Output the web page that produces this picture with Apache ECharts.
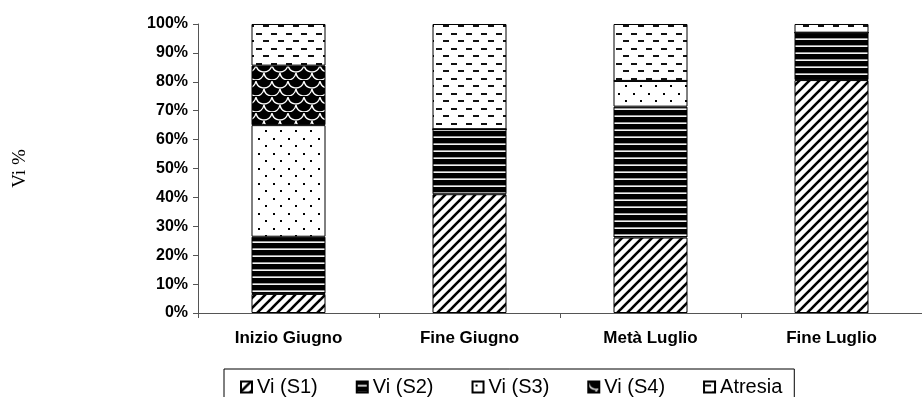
<!DOCTYPE html>
<html>
<head>
<meta charset="utf-8">
<script src="https://cdn.jsdelivr.net/npm/echarts@6/dist/echarts.min.js"></script>
<style>
  html, body { margin: 0; padding: 0; background: #fff; }
  #chart { width: 922px; height: 397px; }
</style>
</head>
<body>
<div id="chart"></div>
<script>
// Stages of the season and the share (%) of each oocyte class per stage
const categories = ['Inizio Giugno', 'Fine Giugno', 'Metà Luglio', 'Fine Luglio'];
const viS1 = [6.6, 41.1, 26.1, 80.6];
const viS2 = [19.8, 22.5, 45.3, 16.4];
const viS3 = [38.6, 0, 8.9, 0];
const viS4 = [20.6, 0, 0, 0];
const atresia = [14.4, 36.4, 19.7, 3.0];
const seriesNames = ['Vi (S1)', 'Vi (S2)', 'Vi (S3)', 'Vi (S4)', 'Atresia'];

// Monochrome fill patterns, drawn once on small tiles
function tile(w, h, draw) {
  const c = document.createElement('canvas');
  c.width = w; c.height = h;
  const ctx = c.getContext('2d');
  draw(ctx, w, h);
  return { image: c, repeat: 'repeat' };
}

const patDiag = tile(10, 10, (ctx, w, h) => {
  ctx.fillStyle = '#fff'; ctx.fillRect(0, 0, w, h);
  ctx.strokeStyle = '#000'; ctx.lineWidth = 2.6;
  [0, 10, 20].forEach(s => {
    ctx.beginPath(); ctx.moveTo(s - 12, 12); ctx.lineTo(s + 2, -2); ctx.stroke();
  });
});

const patHoriz = tile(4, 7, (ctx, w, h) => {
  ctx.fillStyle = '#000'; ctx.fillRect(0, 0, w, h);
  ctx.fillStyle = '#9a9a9a'; ctx.fillRect(0, 3, w, 1);
  ctx.fillStyle = '#f2f2f2'; ctx.fillRect(0, 4, w, 1);
});

const patDots = tile(15, 15, (ctx, w, h) => {
  ctx.fillStyle = '#fff'; ctx.fillRect(0, 0, w, h);
  ctx.fillStyle = '#000';
  ctx.fillRect(3, 3, 2, 2);
  ctx.fillRect(10, 10, 2, 2);
});

const patScale = tile(16, 16, (ctx, w, h) => {
  ctx.fillStyle = '#000'; ctx.fillRect(0, 0, w, h);
  ctx.strokeStyle = '#fff'; ctx.lineWidth = 1.3;
  [[8, 0], [0, 8], [16, 8], [8, 16]].forEach(([cx, cy]) => {
    ctx.beginPath(); ctx.arc(cx, cy, 8, 0.15, Math.PI - 0.15); ctx.stroke();
  });
});

const patDash = tile(15, 15, (ctx, w, h) => {
  ctx.fillStyle = '#fff'; ctx.fillRect(0, 0, w, h);
  ctx.fillStyle = '#111';
  ctx.fillRect(1, 3, 6, 2);
  ctx.fillRect(8, 10, 6, 2);
});

const fills = [patDiag, patHoriz, patDots, patScale, patDash];
const values = [viS1, viS2, viS3, viS4, atresia];

const chart = echarts.init(document.getElementById('chart'), null, { renderer: 'canvas' });

chart.setOption({
  animation: false,
  backgroundColor: '#fff',
  grid: { left: 198, right: -12, top: 24, bottom: 84, containLabel: false },
  legend: {
    data: seriesNames,
    left: 224,
    top: 369,
    padding: [8, 12, 10, 16],
    itemGap: 38,
    itemWidth: 11,
    itemHeight: 11,
    icon: 'rect',
    borderColor: '#000',
    borderWidth: 1,
    textStyle: { fontFamily: 'Liberation Sans', fontSize: 20, color: '#000' }
  },
  xAxis: {
    type: 'category',
    data: categories,
    axisLine: { lineStyle: { color: '#555', width: 1 } },
    axisTick: { show: true, length: 5, alignWithLabel: false, lineStyle: { color: '#555' } },
    axisLabel: {
      margin: 17,
      fontFamily: 'Liberation Sans',
      fontWeight: 'bold',
      fontSize: 17,
      color: '#000'
    },
    splitLine: { show: false }
  },
  yAxis: {
    type: 'value',
    min: 0,
    max: 100,
    interval: 10,
    name: 'Vi %',
    nameLocation: 'middle',
    nameGap: 168,
    nameRotate: 90,
    nameTextStyle: { fontFamily: 'Liberation Serif', fontSize: 19, color: '#000' },
    axisLine: { show: true, lineStyle: { color: '#555', width: 1 } },
    axisTick: { show: true, length: 5, lineStyle: { color: '#555' } },
    axisLabel: {
      margin: 10,
      formatter: '{value}%',
      fontFamily: 'Liberation Sans',
      fontWeight: 'bold',
      fontSize: 16,
      color: '#000'
    },
    splitLine: { show: false }
  },
  series: seriesNames.map((name, i) => ({
    name: name,
    type: 'bar',
    stack: 'total',
    barWidth: 74,
    data: values[i],
    itemStyle: { color: fills[i], borderColor: '#000', borderWidth: 1 }
  }))
});
</script>
</body>
</html>
